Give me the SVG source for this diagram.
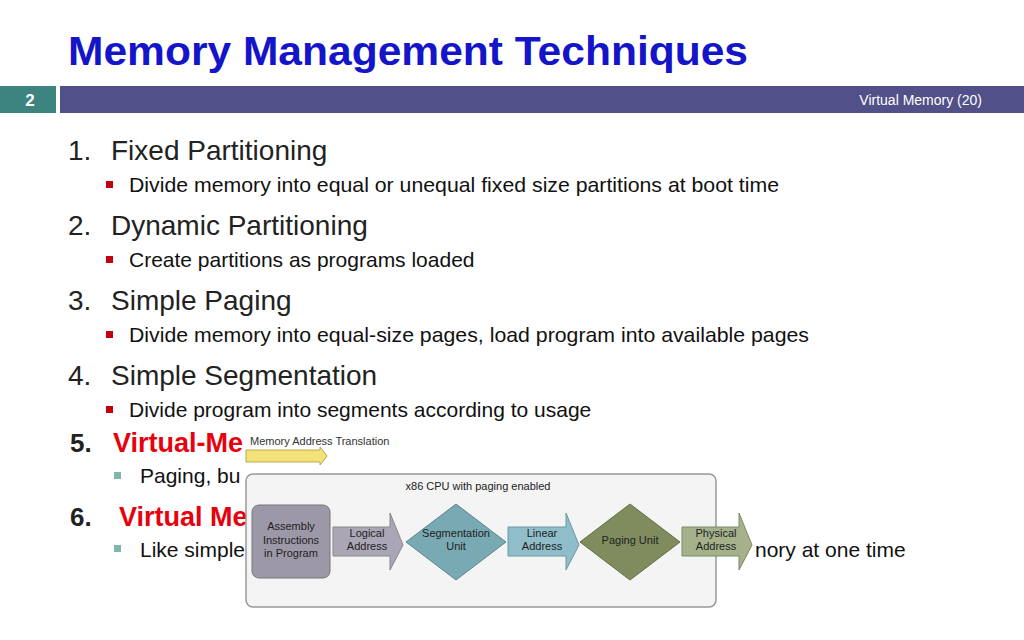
<svg xmlns="http://www.w3.org/2000/svg" width="1024" height="640" viewBox="0 0 1024 640">
<style>
text{font-family:"Liberation Sans",Arial,sans-serif}
.h{font-size:28px;fill:#222}
.b{font-size:21px;fill:#111}
.r{font-size:27px;fill:#e8000c;font-weight:bold}
.s{font-size:11px;fill:#222;text-anchor:middle}
.sq{fill:#c0000c}
.sq2{fill:#7fb7b0}
</style>
<rect width="1024" height="640" fill="#fff"/>
<text x="68" y="65" font-size="40" font-weight="bold" fill="#1414c8" textLength="680" lengthAdjust="spacingAndGlyphs">Memory Management Techniques</text>
<rect x="0" y="86" width="56" height="27" fill="#3d8480"/>
<text x="30" y="106" font-size="17" font-weight="bold" fill="#fff" text-anchor="middle">2</text>
<rect x="60" y="86" width="964" height="27" fill="#525089"/>
<text x="982" y="105" font-size="14" fill="#fff" text-anchor="end">Virtual Memory (20)</text>
<g id="list">
<text x="68" y="160" class="h">1.</text><text x="111" y="160" class="h">Fixed Partitioning</text>
<rect x="106" y="181" width="7" height="7" class="sq"/>
<text x="129" y="192" class="b" textLength="650" lengthAdjust="spacingAndGlyphs">Divide memory into equal or unequal fixed size partitions at boot time</text>
<text x="68" y="235" class="h">2.</text><text x="111" y="235" class="h">Dynamic Partitioning</text>
<rect x="106" y="256" width="7" height="7" class="sq"/>
<text x="129" y="267" class="b">Create partitions as programs loaded</text>
<text x="68" y="310" class="h">3.</text><text x="111" y="310" class="h">Simple Paging</text>
<rect x="106" y="331" width="7" height="7" class="sq"/>
<text x="129" y="342" class="b" textLength="680" lengthAdjust="spacingAndGlyphs">Divide memory into equal-size pages, load program into available pages</text>
<text x="68" y="385" class="h">4.</text><text x="111" y="385" class="h">Simple Segmentation</text>
<rect x="106" y="406" width="7" height="7" class="sq"/>
<text x="129" y="417" class="b">Divide program into segments according to usage</text>
<text x="70" y="452" font-size="26" font-weight="bold" fill="#222">5.</text>
<text x="113" y="452" class="r">Virtual-Me</text>
<rect x="114" y="472" width="7" height="7" class="sq2"/>
<text x="140" y="483" class="b">Paging, bu</text>
<text x="70" y="526" font-size="26" font-weight="bold" fill="#222">6.</text>
<text x="119" y="526" class="r">Virtual Me</text>
<rect x="114" y="545" width="7" height="7" class="sq2"/>
<text x="140" y="557" class="b">Like simple</text>
<text x="755" y="557" class="b">nory at one time</text>
</g>
<g id="legend">
<text x="250" y="445" font-size="11" fill="#333">Memory Address Translation</text>
<path d="M246 450H320V447L327 456L320 465V462H246Z" fill="#f3e27a" stroke="#b9a94a"/>
</g>
<g id="cpu">
<rect x="246" y="474" width="470" height="133" rx="7" fill="#f4f4f4" stroke="#999" stroke-width="1.5"/>
<text x="478" y="490" class="s">x86 CPU with paging enabled</text>
</g>
<g id="assembly">
<rect x="252" y="505" width="78" height="73" rx="7" fill="#9d98a8" stroke="#777"/>
<text class="s" x="291" y="530">Assembly</text><text class="s" x="291" y="544">Instructions</text><text class="s" x="291" y="557">in Program</text>
</g>
<g id="connectors">
<path d="M333 527H390V513L403 545L390 570V556H333Z" fill="#aba6b6" stroke="#888"/>
<path d="M508 527H566V513L579 545L566 570V556H508Z" fill="#8fbdc9" stroke="#6a98a4"/>
<path d="M682 527H739V513L752 545L739 570V556H682Z" fill="#a4b18a" stroke="#7d8a65"/>
</g>
<text class="s" x="367" y="537">Logical</text><text class="s" x="367" y="550">Address</text>
<text class="s" x="542" y="537">Linear</text><text class="s" x="542" y="550">Address</text>
<text class="s" x="716" y="537">Physical</text><text class="s" x="716" y="550">Address</text>
<g id="segmentation">
<path d="M456 504L506 542L456 580L406 542Z" fill="#79a9b3" stroke="#5b8893" stroke-linejoin="round"/>
<text class="s" x="456" y="537">Segmentation</text><text class="s" x="456" y="550">Unit</text>
</g>
<g id="paging">
<path d="M630 504L680 542L630 580L580 542Z" fill="#7f8d5e" stroke="#626e45" stroke-linejoin="round"/>
<text class="s" x="630" y="544">Paging Unit</text>
</g>
</svg>
